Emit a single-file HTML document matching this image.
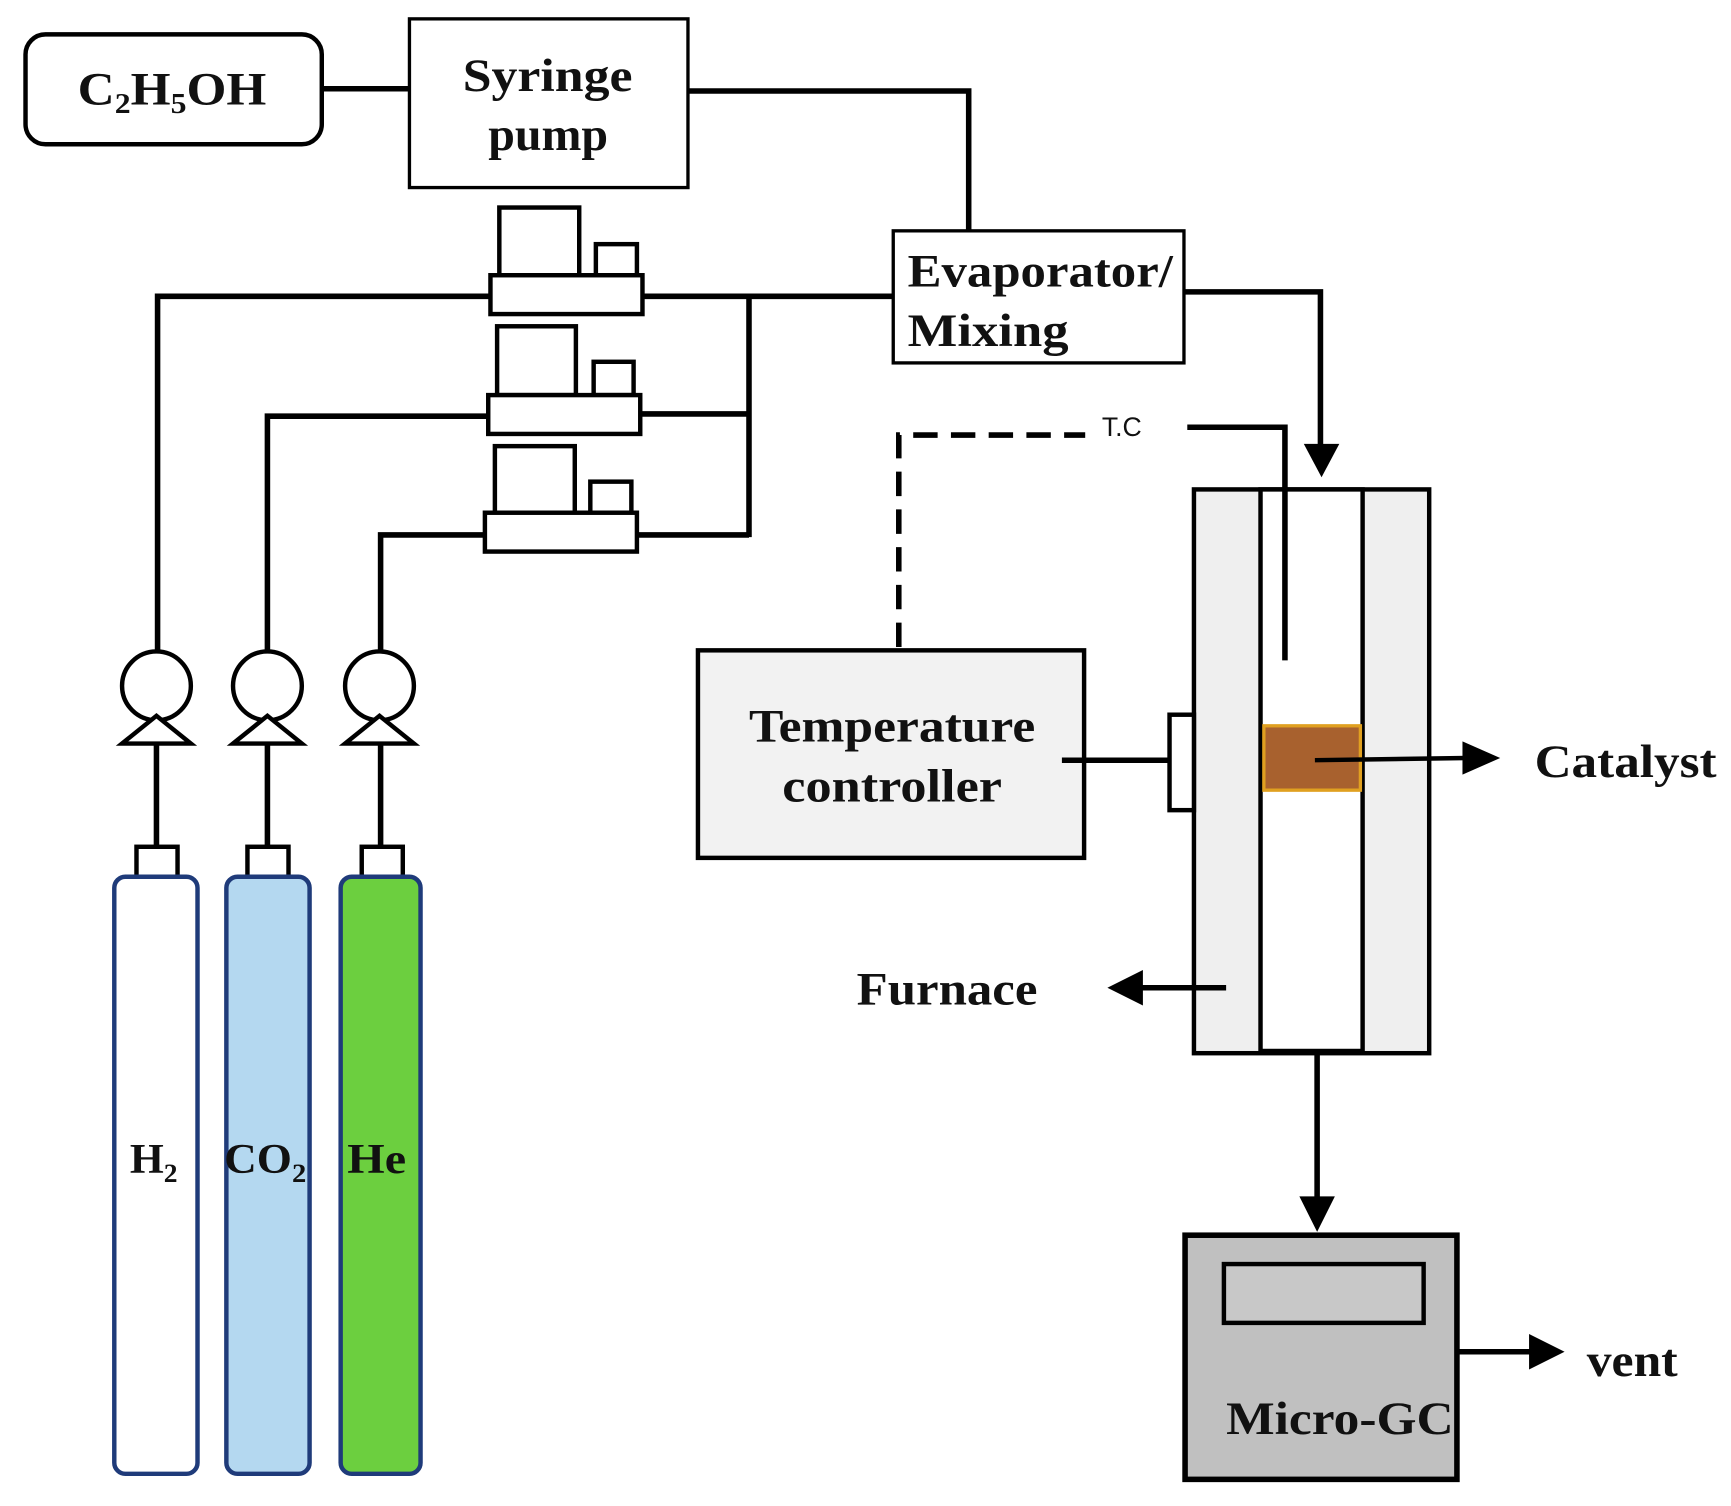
<!DOCTYPE html>
<html><head><style>
html,body{margin:0;padding:0;background:#fff;}
svg{display:block;}
text{font-family:"Liberation Serif",serif;font-weight:bold;fill:#111;}
</style></head><body>
<svg width="1731" height="1506" viewBox="0 0 1560 1357" preserveAspectRatio="none" xmlns="http://www.w3.org/2000/svg">
<g stroke="#000" stroke-width="5" fill="none">
<line x1="290" y1="80" x2="369" y2="80"/>
<polyline points="620,82 873,82 873,208"/>
<polyline points="1067,263 1190,263 1190,402"/>
<polyline points="442,267 142,267 142,588"/>
<polyline points="440,375 241,375 241,588"/>
<polyline points="437,482 343,482 343,588"/>
<line x1="579" y1="267" x2="805" y2="267"/>
<line x1="675" y1="267" x2="675" y2="484"/>
<line x1="577" y1="373" x2="675" y2="373"/>
<line x1="574" y1="482" x2="675" y2="482"/>
<line x1="141" y1="670" x2="141" y2="765"/>
<line x1="241" y1="670" x2="241" y2="765"/>
<line x1="343" y1="670" x2="343" y2="765"/>
<polyline points="810,583 810,392 978,392" stroke-dasharray="22,12"/>
<polyline points="1070,385 1158,385 1158,595"/>
</g>
<rect x="23" y="31" width="267" height="99" rx="18" fill="#fff" stroke="#000" stroke-width="4"/>
<text x="70" y="94" font-size="42" textLength="170" lengthAdjust="spacingAndGlyphs">C<tspan font-size="26" dy="8">2</tspan><tspan dy="-8">H</tspan><tspan font-size="26" dy="8">5</tspan><tspan dy="-8">OH</tspan></text>
<rect x="369" y="17" width="251" height="152" fill="#fff" stroke="#000" stroke-width="3"/>
<text x="417" y="82" font-size="42" textLength="153" lengthAdjust="spacingAndGlyphs">Syringe</text>
<text x="440" y="135" font-size="42" textLength="108" lengthAdjust="spacingAndGlyphs">pump</text>
<rect x="805" y="208" width="262" height="119" fill="#fff" stroke="#000" stroke-width="3"/>
<text x="818" y="258" font-size="42" textLength="239" lengthAdjust="spacingAndGlyphs">Evaporator/</text>
<text x="818" y="312" font-size="42" textLength="145" lengthAdjust="spacingAndGlyphs">Mixing</text>
<g fill="#fff" stroke="#000" stroke-width="4">
<rect x="450" y="187" width="72" height="61"/><rect x="537" y="220" width="37" height="28"/><rect x="442" y="248" width="137" height="35"/>
<rect x="448" y="294" width="71" height="62"/><rect x="535" y="326" width="36" height="30"/><rect x="440" y="356" width="137" height="35"/>
<rect x="446" y="402" width="72" height="60"/><rect x="532" y="434" width="37" height="28"/><rect x="437" y="462" width="137" height="35"/>
</g>
<g fill="#fff" stroke="#000" stroke-width="4">
<circle cx="141" cy="618" r="31"/><polygon points="110,670 172,670 141,645"/>
<circle cx="241" cy="618" r="31"/><polygon points="210,670 272,670 241,645"/>
<circle cx="342" cy="618" r="31"/><polygon points="311,670 373,670 342,645"/>
<rect x="123" y="763" width="37" height="27"/>
<rect x="223" y="763" width="37" height="27"/>
<rect x="326" y="763" width="37" height="27"/>
</g>
<g stroke="#1f3b7a" stroke-width="4">
<rect x="103" y="790" width="75" height="538" rx="10" fill="#fff"/>
<rect x="204" y="790" width="75" height="538" rx="10" fill="#b4d8f0"/>
<rect x="307" y="790" width="72" height="538" rx="10" fill="#6ccf3f"/>
</g>
<text x="117" y="1057" font-size="38" textLength="43" lengthAdjust="spacingAndGlyphs">H<tspan font-size="24" dy="8">2</tspan></text>
<text x="202" y="1057" font-size="38" textLength="74" lengthAdjust="spacingAndGlyphs">CO<tspan font-size="24" dy="8">2</tspan></text>
<text x="313" y="1057" font-size="38" textLength="53" lengthAdjust="spacingAndGlyphs">He</text>
<text x="993" y="393" font-size="24" style="font-family:'Liberation Sans',sans-serif;font-weight:normal">T.C</text>
<rect x="1076" y="441" width="212" height="508" fill="#efefef" stroke="#000" stroke-width="4"/>
<rect x="1136" y="441" width="92" height="506" fill="#fff" stroke="#000" stroke-width="4"/>
<line x1="1158" y1="441" x2="1158" y2="595" stroke="#000" stroke-width="5"/>
<polygon points="1175,400 1207,400 1191,430" fill="#000"/>
<rect x="1139" y="654" width="87" height="58" fill="#a8612e" stroke="#e0a020" stroke-width="3"/>
<line x1="1185" y1="685" x2="1322" y2="683" stroke="#000" stroke-width="4"/>
<polygon points="1318,668 1352,683 1318,698" fill="#000"/>
<text x="1383" y="700" font-size="42" textLength="164" lengthAdjust="spacingAndGlyphs">Catalyst</text>
<rect x="629" y="586" width="348" height="187" fill="#f2f2f2" stroke="#000" stroke-width="4"/>
<text x="675" y="668" font-size="42" textLength="258" lengthAdjust="spacingAndGlyphs">Temperature</text>
<text x="705" y="722" font-size="42" textLength="198" lengthAdjust="spacingAndGlyphs">controller</text>
<line x1="957" y1="685" x2="1054" y2="685" stroke="#000" stroke-width="5"/>
<rect x="1054" y="644" width="22" height="86" fill="#fff" stroke="#000" stroke-width="4"/>
<line x1="1105" y1="890" x2="1025" y2="890" stroke="#000" stroke-width="5"/>
<polygon points="1030,874 998,890 1030,906" fill="#000"/>
<text x="772" y="905" font-size="42" textLength="163" lengthAdjust="spacingAndGlyphs">Furnace</text>
<line x1="1187" y1="948" x2="1187" y2="1082" stroke="#000" stroke-width="5"/>
<polygon points="1171,1078 1203,1078 1187,1110" fill="#000"/>
<rect x="1068" y="1113" width="245" height="220" fill="#c0c0c0" stroke="#000" stroke-width="5"/>
<rect x="1103" y="1139" width="180" height="53" fill="#c8c8c8" stroke="#000" stroke-width="4"/>
<text x="1105" y="1292" font-size="42" textLength="205" lengthAdjust="spacingAndGlyphs">Micro-GC</text>
<line x1="1313" y1="1218" x2="1382" y2="1218" stroke="#000" stroke-width="5"/>
<polygon points="1378,1202 1410,1218 1378,1234" fill="#000"/>
<text x="1430" y="1240" font-size="42" textLength="82" lengthAdjust="spacingAndGlyphs">vent</text>
</svg>
</body></html>
